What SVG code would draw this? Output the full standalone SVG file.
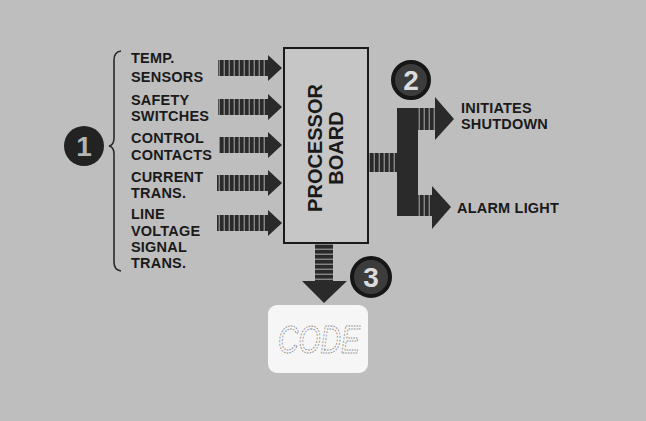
<svg xmlns="http://www.w3.org/2000/svg" width="646" height="421" viewBox="0 0 646 421">
<defs>
<pattern id="vstripes" width="5" height="10" patternUnits="userSpaceOnUse">
<rect width="5" height="10" fill="#2a2a2a"/>
<rect x="3.6" width="1.3" height="10" fill="#8e8e8e"/>
</pattern>
<pattern id="hstripes" width="10" height="5" patternUnits="userSpaceOnUse">
<rect width="10" height="5" fill="#2a2a2a"/>
<rect y="3.6" width="10" height="1.3" fill="#8e8e8e"/>
</pattern>
<style>
.lbl{font-family:"Liberation Sans",Arial,sans-serif;font-weight:bold;font-size:14.5px;letter-spacing:0.2px;fill:#1a1a1a}
.big{font-family:"Liberation Sans",Arial,sans-serif;font-weight:bold;font-size:20px;fill:#1a1a1a}
.num{font-family:"Liberation Sans",Arial,sans-serif;font-weight:bold;font-size:28px;fill:#dcdcdc;text-anchor:middle}
.head{fill:#2a2a2a}
.vs{fill:url(#vstripes)}
.hs{fill:url(#hstripes)}
</style>
</defs>
<rect width="646" height="421" fill="#bebebe"/>

<g id="connectors">
<g id="in1"><rect class="vs" x="218" y="60" width="51" height="16"/><polygon class="head" points="268,55 282,68 268,81"/></g>
<g id="in2"><rect class="vs" x="218" y="99" width="51" height="16"/><polygon class="head" points="268,94 282,107 268,120"/></g>
<g id="in3"><rect class="vs" x="219" y="137" width="50" height="16"/><polygon class="head" points="268,132 282,145 268,158"/></g>
<g id="in4"><rect class="vs" x="217" y="175" width="52" height="16"/><polygon class="head" points="268,170 282,183 268,196"/></g>
<g id="in5"><rect class="vs" x="217" y="215" width="52" height="16"/><polygon class="head" points="268,210 282,223 268,236"/></g>
<g id="out">
<rect class="vs" x="368" y="153" width="30" height="19"/>
<rect x="397" y="108" width="21" height="108" fill="#2a2a2a"/>
<rect class="vs" x="417" y="108" width="19" height="22"/>
<polygon class="head" points="435,97 454,119 435,140"/>
<rect class="vs" x="417" y="195" width="16" height="21"/>
<polygon class="head" points="432,186 451,207 432,229"/>
</g>
<g id="down">
<rect class="hs" x="315" y="244" width="18" height="38"/>
<polygon class="head" points="302,281 347,281 324,303"/>
</g>
</g>

<g id="brace">
<path d="M121,51 Q114,52 114,60 L114,138 Q114,145 109,146 Q114,147 114,154 L114,262 Q114,270 121,271" fill="none" stroke="#2a2a2a" stroke-width="1.6"/>
</g>

<g id="badge1"><circle cx="84" cy="146" r="20" fill="#222"/><text class="num" x="84" y="156" style="fill:#b4b4b4">1</text></g>
<g id="badge2"><circle cx="411" cy="80" r="18" fill="#3c3c3c" stroke="#161616" stroke-width="4"/><text class="num" x="411" y="90">2</text></g>
<g id="badge3"><circle cx="371" cy="277" r="19" fill="#3c3c3c" stroke="#161616" stroke-width="4"/><text class="num" x="371" y="287">3</text></g>

<g id="inputs">
<text class="lbl" x="131" y="63">TEMP.</text>
<text class="lbl" x="131" y="82">SENSORS</text>
<text class="lbl" x="131" y="105">SAFETY</text>
<text class="lbl" x="131" y="121">SWITCHES</text>
<text class="lbl" x="131" y="143">CONTROL</text>
<text class="lbl" x="131" y="160">CONTACTS</text>
<text class="lbl" x="131" y="182">CURRENT</text>
<text class="lbl" x="131" y="198">TRANS.</text>
<text class="lbl" x="131" y="219">LINE</text>
<text class="lbl" x="131" y="236">VOLTAGE</text>
<text class="lbl" x="131" y="252">SIGNAL</text>
<text class="lbl" x="131" y="268">TRANS.</text>
</g>

<g id="processor">
<rect x="284" y="48" width="84" height="195" fill="#c6c6c6" stroke="#1a1a1a" stroke-width="2"/>
<text class="big" text-anchor="middle" transform="translate(322,148) rotate(-90)">PROCESSOR</text>
<text class="big" text-anchor="middle" transform="translate(343,148) rotate(-90)">BOARD</text>
</g>

<g id="outputs">
<text class="lbl" x="461" y="113">INITIATES</text>
<text class="lbl" x="461" y="129">SHUTDOWN</text>
<text class="lbl" x="457" y="213">ALARM LIGHT</text>
</g>

<g id="code">
<rect x="268" y="305" width="100" height="68" rx="9" fill="#f6f6f6"/>
<text x="278" y="353" font-family="Liberation Sans, Arial, sans-serif" font-size="38" font-style="italic" fill="none" stroke="#8a8a8a" stroke-width="1" stroke-dasharray="2 1.5" textLength="82" lengthAdjust="spacingAndGlyphs">CODE</text>
</g>
</svg>
